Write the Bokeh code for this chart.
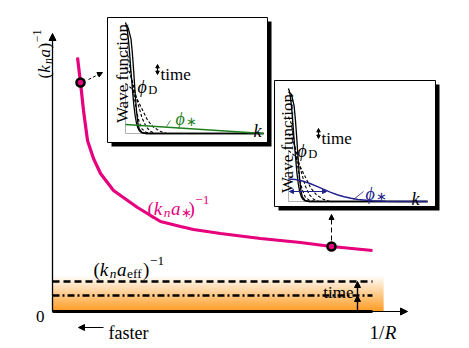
import math
import numpy as np
from bokeh.plotting import figure
from bokeh.models import Range1d, Label, Arrow, NormalHead
from bokeh.embed import file_html
from bokeh.resources import INLINE

# ---------------- data (schematic units) ----------------
inv_R       = [25, 28, 31, 35, 41, 48, 61, 85, 108, 128, 141, 168, 208, 248, 279, 320]
inv_ka_star = [254, 229, 201, 171, 153, 138, 121, 104, 90, 85, 82, 78, 73, 69, 65, 61]
marked = [1, 14]
inv_ka_eff = 30
inv_ka_mid = 16
band_height = 36
line_end = 320
band_end = 331
axis_x_end = 355
axis_y_end = 278

# inset wave functions (k and psi normalised 0..1)
kA   = [0, .01, .02, .03, .04, .05, .06, .07, .08, .09, .10, .12, .15, 1.0]
psiA = [1.0, .96, .86, .72, .55, .40, .26, .16, .09, .05, .025, .005, 0, 0]
kB   = [0, .02, .04, .05, .06, .07, .08, .09, .10, .12, .15, 1.0]
psiB = [.97, .95, .85, .72, .55, .36, .20, .09, .04, .01, 0, 0]
kD1  = [0, .02, .04, .06, .08, .10, .12, .15, .20]
psiD1 = [.75, .69, .54, .36, .20, .10, .04, .01, 0]
kD2  = [0, .03, .06, .09, .12, .15, .18, .22]
psiD2 = [.60, .55, .42, .27, .14, .06, .02, 0]
kD3  = [0, .04, .08, .12, .16, .20, .25, .30]
psiD3 = [.45, .41, .32, .22, .12, .06, .02, 0]
k_green   = [0, 1.0]
psi_green = [.08, 0]
k_blue   = [0, .05, .10, .15, .20, .25, .30, .35, .40, .45, .50, .60, .70, .80, 1.0]
psi_blue = [.20, .195, .181, .161, .136, .109, .083, .060, .042, .028, .017, .006, .002, 0, 0]

MAG = "#e6007e"
GREEN = "#1f7f1f"
BLUE = "#22228c"
FONT = "Liberation Serif"

W, H = 469, 348
p = figure(width=W, height=H, x_range=Range1d(-52, 417), y_range=Range1d(-37, 311),
           output_backend="svg", toolbar_location=None, min_border=0,
           x_axis_location=None, y_axis_location=None)
p.grid.visible = False
p.outline_line_color = None
p.background_fill_color = "white"


def X(px):
    return px - 52


def Y(py):
    return 311 - py


def label(px, py, text, size=17, color="black", italic=False, align="left", angle=0.0):
    p.add_layout(Label(x=X(px), y=Y(py), text=text, text_font=FONT, text_font_size=f"{size}px",
                       text_font_style="italic" if italic else "normal", text_color=color,
                       text_align=align, text_baseline="alphabetic", angle=angle))


def mlabel(px, py, pieces, size, color="black", angle=0.0):
    x, y = X(px), Y(py)
    ca, sa = math.cos(angle), math.sin(angle)
    adv = 0.0
    for txt, it, sc, sh, w in pieces:
        fs = size * sc
        lx = x + adv * ca - sh * size * sa
        ly = y + adv * sa + sh * size * ca
        p.add_layout(Label(x=lx, y=ly, text=txt, angle=angle, text_align="left",
                           text_baseline="alphabetic", text_font=FONT,
                           text_font_size=f"{fs:.1f}px",
                           text_font_style="italic" if it else "normal", text_color=color))
        adv += w * fs


def arrow(x0, y0, x1, y1, size=7, lw=1.2, color="black", dash="solid", both=False):
    head = NormalHead(size=size, fill_color=color, line_color=color, line_width=1)
    kw = dict(end=head, x_start=x0, y_start=y0, x_end=x1, y_end=y1,
              line_width=lw, line_color=color, line_dash=dash)
    if both:
        kw["start"] = NormalHead(size=size, fill_color=color, line_color=color, line_width=1)
    else:
        kw["start"] = None
    p.add_layout(Arrow(**kw))


# ---------------- orange gradient band ----------------
n = 36
edges = np.linspace(0, band_height, n + 1)
cols = []
for i in range(n):
    t = (i + 0.5) / n  # 0 bottom -> 1 top
    g = int(round(140 + (255 - 140) * t))
    b = int(round(255 * t))
    cols.append(f"#ff{g:02x}{b:02x}")
p.quad(left=[0] * n, right=[band_end] * n, bottom=edges[:-1], top=edges[1:] + 0.3,
       fill_color=cols, line_color=None)

# reference lines
p.line([0, line_end], [inv_ka_eff, inv_ka_eff], line_color="black", line_width=2.5, line_dash="7 4")
p.line([0, line_end], [inv_ka_mid, inv_ka_mid], line_color="black", line_width=2.5, line_dash="7 3 2 3")
p.line([0, line_end], [0, 0], line_color="black", line_width=3)

# axes
arrow(0, 0, axis_x_end, 0, size=7, lw=1.2)
arrow(0, 0, 0, axis_y_end, size=7, lw=1.3)

# time arrows
arrow(305, 0, 305, inv_ka_mid, size=6, lw=1.4)
arrow(305, inv_ka_mid, 305, inv_ka_eff, size=6, lw=1.4)

# main curve
p.line(inv_R, inv_ka_star, line_color=MAG, line_width=3.2)
mx = [inv_R[i] for i in marked]
my = [inv_ka_star[i] for i in marked]
p.scatter(mx, my, size=8, fill_color=MAG, line_color="black", line_width=2.6)

# connectors to insets
arrow(mx[0] + 8, my[0] + 3, mx[0] + 22, my[0] + 10, size=5, lw=1.0, dash="3 2")
arrow(mx[1], my[1] + 6, mx[1], my[1] + 32, size=5, lw=1.0, dash="5 3")

# ---------------- insets ----------------
def inset(box, frame, blue):
    l, t, r, b = box
    p.quad(left=X(l + 4), right=X(r + 4), top=Y(t + 4), bottom=Y(b + 4),
           fill_color="black", line_color=None)
    p.quad(left=X(l), right=X(r), top=Y(t), bottom=Y(b), fill_color="white",
           line_color="black", line_width=1)
    x0, x1, y0, y1 = frame

    def m(k, psi):
        return [X(x0 + kk * (x1 - x0)) for kk in k], [Y(y0 - pp * (y0 - y1)) for pp in psi]

    gx, gy = m([0, 0, 1], [0.45, 0, 0])
    p.line(gx, gy, line_color="#b0b0b0", line_width=1)
    for k, psi in ((kD1, psiD1), (kD2, psiD2), (kD3, psiD3)):
        xx, yy = m(k, psi)
        p.line(xx, yy, line_color="black", line_width=1.1, line_dash="3 2")
    for k, psi in ((kA, psiA), (kB, psiB)):
        xx, yy = m(k, psi)
        p.line(xx, yy, line_color="black", line_width=1.3)
    if blue:
        xx, yy = m(k_blue, psi_blue)
        p.line(xx, yy, line_color=BLUE, line_width=1.5)
    else:
        xx, yy = m(k_green, psi_green)
        p.line(xx, yy, line_color=GREEN, line_width=1.5)


inset((107, 17, 267, 142), (125, 263, 133, 22), blue=False)
inset((274, 80, 435, 206), (288, 427, 201, 88), blue=True)

# blue spread arrow in inset 2
arrow(X(326), Y(191), X(289), Y(191), size=4, lw=1.0, color=BLUE, both=True)
# pointers
p.line([X(170), X(166)], [Y(120), Y(126)], line_color=GREEN, line_width=0.8)
p.line([X(363), X(353)], [Y(191), Y(199)], line_color=BLUE, line_width=0.8)

# inset texts
label(122, 73, "Wave function", size=17, align="center", angle=math.pi / 2)
label(287, 143, "Wave function", size=17, align="center", angle=math.pi / 2)
arrow(X(157), Y(74), X(157), Y(64), size=3.5, lw=1.0, both=True)
label(160, 74, "time", size=17)
arrow(X(318), Y(138), X(318), Y(128), size=3.5, lw=1.0, both=True)
label(321, 138, "time", size=17)
mlabel(137, 86, [("ϕ", True, 1, 0, .6), ("D", False, .7, -.2, .72)], 18)
mlabel(297, 150, [("ϕ", True, 1, 0, .6), ("D", False, .7, -.2, .72)], 18)
mlabel(175, 118, [("ϕ", True, 1, 0, .6), ("∗", False, .7, -.2, .5)], 18, color=GREEN)
mlabel(365, 193, [("ϕ", True, 1, 0, .6), ("∗", False, .7, -.2, .5)], 18, color=BLUE)
label(253, 130, "k", size=18, italic=True)
label(411, 198, "k", size=18, italic=True)

# ---------------- main texts ----------------
mlabel(147, 208, [("(", False, 1, 0, .333), ("k", True, 1, 0, .52), ("n", True, .7, -.2, .55),
                  ("a", True, 1, 0, .53), ("∗", False, .7, -.2, .55), (")", False, 1, 0, .36),
                  ("−1", False, .7, .45, 1.1)], 19, color=MAG)
mlabel(93, 269, [("(", False, 1, 0, .333), ("k", True, 1, 0, .52), ("n", True, .7, -.2, .55),
                 ("a", True, 1, 0, .53), ("eff", False, .7, -.2, 1.2), (")", False, 1, 0, .36),
                 ("−1", False, .7, .45, 1.1)], 19)
mlabel(44, 78, [("(", False, 1, 0, .333), ("k", True, 1, 0, .52), ("n", True, .7, -.2, .55),
                ("a", True, 1, 0, .53), (")", False, 1, 0, .36),
                ("−1", False, .7, .45, 1.1)], 17, angle=math.pi / 2)
label(44, 316, "0", size=17, align="right")
label(353, 292, "time", size=17, align="right")
arrow(X(103), Y(327), X(78), Y(327), size=6, lw=1.1)
label(108, 332, "faster", size=18)
mlabel(369, 332, [("1", False, 1, 0, .5), ("/", False, 1, 0, .3), ("R", True, 1, 0, .61)], 19)

open("out.html", "w").write(file_html(p, INLINE))
